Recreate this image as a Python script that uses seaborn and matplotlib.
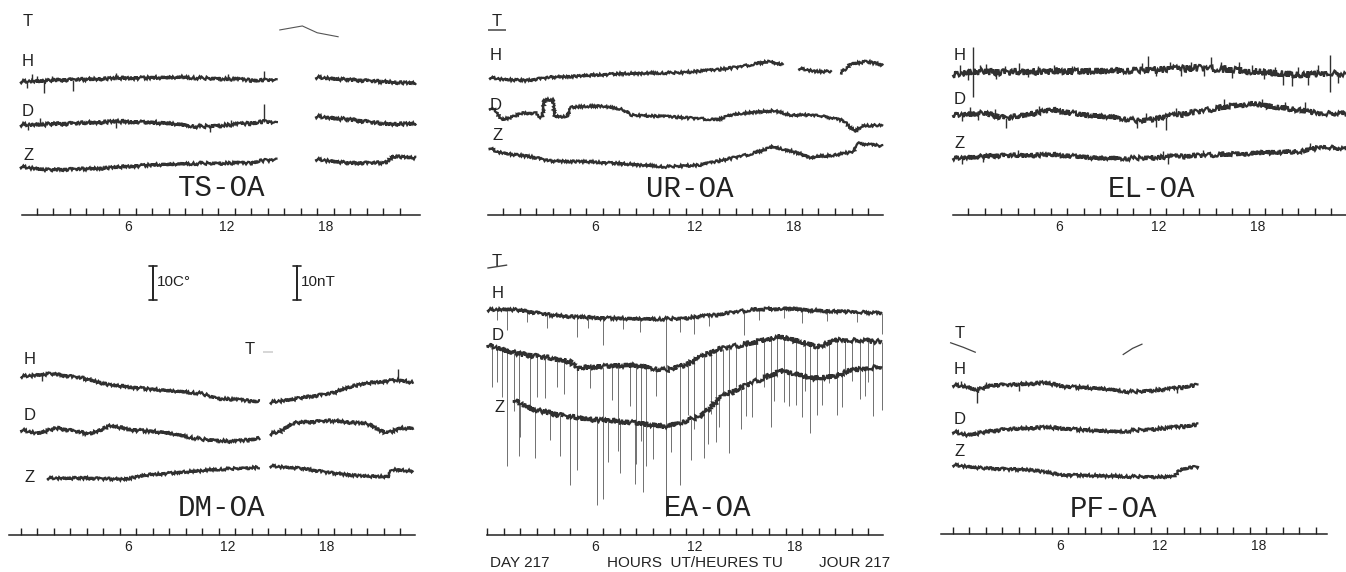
import numpy as np
import pandas as pd
import matplotlib
matplotlib.use("Agg")
import matplotlib.pyplot as plt
import matplotlib.transforms as mtransforms
from matplotlib.lines import Line2D
import seaborn as sns

NaN = np.nan

# ------------------------------------------------------------------ data
# hours UT (day 217) and deflections (nT for H/D/Z, degC for T) relative to trace start
# NaN marks a gap in the record
TS_T_HOURS = [15.7, 17.1, 18.0, 19.3]
TS_T_VALUES = [0.0, 1.2, -0.8, -2.0]
TS_H_HOURS = [0.0, 2.8, 5.8, 9.9, 12.9, 14.5, 15.0, 15.6, NaN, 17.9, 20.0, 24.0]
TS_H_VALUES = [-0.5, 0.0, 0.5, 0.8, 0.2, -0.2, 0.0, -0.2, NaN, 0.8, 0.0, -1.0]
TS_D_HOURS = [0.0, 2.8, 5.8, 8.9, 10.9, 12.9, 14.5, 14.9, 15.6, NaN, 17.9, 20.0, 22.0, 24.0]
TS_D_VALUES = [0.0, 0.3, 1.0, 0.5, -0.5, 0.0, 0.7, 1.0, 0.3, NaN, 2.5, 1.5, 0.3, 0.3]
TS_Z_HOURS = [0.0, 1.8, 4.8, 7.9, 10.9, 13.9, 14.7, 15.6, NaN, 17.9, 20.0, 22.2, 22.6, 24.0]
TS_Z_VALUES = [0.0, -1.0, -0.5, 0.5, 1.0, 1.0, 1.8, 2.0, NaN, 2.2, 1.0, 1.2, 3.1, 2.5]
TS_H_SPIKE_HOURS = [0.4, 0.7, 1.0, 1.42, 1.9, 3.2, 5.8, 12.6, 14.8]
TS_H_SPIKE_SIZE = [-1.8, 2.0, 1.6, -3.6, 1.4, -3.4, 1.6, 1.4, 2.7]
TS_D_SPIKE_HOURS = [0.5, 1.2, 5.8, 11.5, 12.8, 14.8]
TS_D_SPIKE_SIZE = [-1.6, 1.8, -1.8, -1.6, 1.5, 5.2]

UR_T_HOURS = [0.08, 1.17]
UR_T_VALUES = [0.0, 0.0]
UR_H_HOURS = [0.16, 1.0, 2.4, 3.8, 5.8, 7.8, 9.8, 11.8, 13.9, 15.3, 16.9, 17.9, NaN, 18.8, 19.9, 20.8, NaN, 21.3, 21.7, 21.9, 22.9, 23.9]
UR_H_VALUES = [0.0, -0.5, -0.9, 0.1, 0.5, 1.1, 1.3, 1.5, 2.3, 3.2, 4.7, 3.9, NaN, 2.7, 1.8, 1.8, NaN, 1.3, 2.7, 4.0, 4.7, 3.7]
UR_D_HOURS = [0.16, 0.5, 0.9, 1.6, 2.1, 3.0, 3.1, 3.37, 3.45, 4.0, 4.1, 4.8, 5.1, 6.8, 8.2, 8.7, 11.0, 13.9, 14.9, 17.3, 18.3, 19.9, 21.5, 22.2, 22.6, 23.9]
UR_D_VALUES = [0.0, -0.5, -3.4, -2.5, -1.5, -1.5, -2.6, -2.6, 2.5, 2.5, -2.5, -2.5, 0.3, 0.7, -0.3, -2.0, -2.5, -3.4, -1.7, -0.7, -2.0, -2.0, -3.6, -6.9, -5.2, -4.9]
UR_Z_HOURS = [0.16, 0.6, 1.4, 2.8, 3.8, 5.8, 7.8, 10.8, 12.9, 14.3, 15.9, 17.3, 18.5, 19.5, 20.9, 22.1, 22.3, 23.9]
UR_Z_VALUES = [0.0, -1.2, -1.9, -2.8, -3.9, -4.1, -4.6, -5.6, -5.1, -3.6, -1.9, 0.3, -1.2, -2.8, -2.2, -1.2, 1.3, 0.5]

EL_H_HOURS = [0.05, 1.3, 2.9, 4.9, 8.0, 10.0, 12.0, 15.0, 17.1, 19.1, 21.1, 22.7, 23.0, 23.9]
EL_H_VALUES = [-0.3, 0.7, 0.4, 0.7, 0.7, 1.0, 1.2, 1.7, 1.2, 0.4, -0.3, 0.2, 0.2, -0.3]
EL_D_HOURS = [0.05, 1.9, 3.3, 6.0, 8.0, 10.0, 11.4, 13.0, 15.0, 16.7, 18.1, 19.7, 21.1, 22.3, 23.9]
EL_D_VALUES = [0.0, 0.5, -1.0, 1.5, 0.0, -0.7, -1.7, -0.5, 1.0, 2.5, 3.4, 2.3, 1.5, 0.5, 0.3]
EL_Z_HOURS = [0.05, 2.9, 6.0, 9.0, 11.0, 13.0, 16.1, 19.1, 21.1, 22.5, 23.9]
EL_Z_VALUES = [0.0, 0.7, 1.0, 0.0, 0.0, 0.3, 1.0, 1.7, 2.0, 3.4, 2.6]
EL_H_SPIKE_HOURS = [0.5, 1.0, 1.3, 1.3, 1.7, 2.1, 2.7, 3.2, 4.1, 4.6, 5.2, 6.2, 7.3, 11.5, 11.9, 12.4, 13.2, 13.9,
                    14.5, 15.3, 15.7, 16.3, 17.0, 17.4, 18.2, 18.9, 19.6, 20.1, 20.6, 21.0, 21.6, 22.2, 22.9, 22.9, 23.4]
EL_H_SPIKE_SIZE = [2.5, -2.2, 7.3, -7.4, 2.0, 2.5, -2.0, 1.8, 2.6, -1.6, 1.6, 2.0, 1.5, 2.0, 4.1, -2.0, 2.2, -2.2,
                   2.0, -2.2, 3.4, 2.0, -2.4, 2.5, 2.0, -2.0, 1.8, -3.2, -3.5, 2.2, -3.0, 2.6, 5.4, -5.4, -2.6]
EL_D_SPIKE_HOURS = [0.6, 1.1, 1.6, 2.6, 3.3, 5.3, 11.2, 11.8, 12.4, 13.0, 13.6, 16.5, 18.8, 20.2, 21.4]
EL_D_SPIKE_SIZE = [-2.0, 2.2, -1.8, 2.0, -2.9, 1.8, -2.4, 2.0, -2.6, -3.9, 2.2, 2.5, 1.8, 1.8, 2.6]
EL_Z_SPIKE_HOURS = [0.6, 1.9, 4.0, 12.8, 13.1, 15.2, 21.7]
EL_Z_SPIKE_SIZE = [-1.8, -1.5, 1.6, 2.0, -2.0, 1.5, 1.8]

DM_T_HOURS = [14.7, 15.3]
DM_T_VALUES = [0.0, 0.0]
DM_H_HOURS = [0.0, 1.8, 3.8, 5.4, 7.8, 10.9, 11.9, 14.5, NaN, 15.1, 16.9, 18.9, 20.0, 21.0, 22.8, 23.8]
DM_H_VALUES = [0.0, 0.8, -0.5, -2.5, -3.7, -4.9, -6.4, -7.4, NaN, -7.6, -6.4, -4.9, -2.9, -2.0, -1.0, -1.8]
DM_D_HOURS = [0.0, 1.0, 2.2, 4.2, 5.4, 6.8, 8.8, 10.9, 12.9, 14.5, NaN, 15.1, 15.7, 16.5, 18.9, 21.0, 22.2, 23.0, 23.8]
DM_D_VALUES = [0.0, -1.0, 0.5, -1.2, 1.2, 0.0, -0.8, -2.7, -3.5, -2.5, NaN, -1.2, -0.5, 2.0, 2.7, 1.8, -1.0, 0.5, 0.5]
DM_Z_HOURS = [1.6, 3.8, 6.2, 7.8, 9.9, 11.9, 14.5, NaN, 15.1, 16.9, 18.9, 21.0, 22.3, 22.5, 23.8]
DM_Z_VALUES = [0.0, 0.0, -0.3, 1.0, 1.8, 2.6, 3.2, NaN, 3.6, 2.9, 1.5, 0.5, 0.5, 2.6, 2.0]
DM_H_SPIKE_HOURS = [1.3, 22.85]
DM_H_SPIKE_SIZE = [-1.8, 3.2]

EA_T_HOURS = [0.0, 1.2]
EA_T_VALUES = [0.0, 0.9]
EA_H_HOURS = [0.0, 1.4, 3.8, 5.8, 7.8, 9.8, 11.8, 13.8, 15.9, 17.9, 19.9, 21.9, 23.8]
EA_H_VALUES = [0.0, 0.2, -1.5, -2.2, -2.5, -2.7, -2.5, -1.5, 0.0, 0.5, -0.2, -0.5, -1.0]
EA_D_HOURS = [0.0, 1.8, 3.8, 5.0, 5.4, 6.8, 8.8, 10.8, 12.2, 13.8, 15.9, 17.5, 18.9, 19.9, 21.1, 23.8]
EA_D_VALUES = [0.0, -2.6, -3.9, -4.9, -6.9, -6.4, -5.9, -7.4, -5.4, -1.5, 0.5, 2.5, 1.0, -0.5, 1.5, 1.0]
EA_Z_HOURS = [1.6, 2.8, 4.8, 6.8, 8.8, 10.8, 12.8, 14.2, 15.9, 17.9, 19.5, 20.9, 21.9, 23.8]
EA_Z_VALUES = [0.0, -2.9, -4.9, -5.9, -6.7, -7.8, -4.9, 1.0, 4.9, 8.8, 6.4, 6.9, 8.8, 9.8]
EA_H_SPIKE_HOURS = [0.6, 1.2, 2.4, 3.6, 5.4, 6.1, 7.0, 8.2, 9.2, 10.8, 11.6, 12.5, 13.4, 15.5, 16.4, 17.9, 19.0, 20.5, 22.3, 23.8]
EA_H_SPIKE_SIZE = [-3, -6, -3, -4, -6, -3, -8, -3, -4, -58, -4, -5, -3, -7, -3, -3, -4, -3, -3, -6]
EA_D_SPIKE_HOURS = [0.3, 0.6, 0.9, 1.2, 1.6, 1.9, 2.6, 3.0, 3.5, 4.2, 4.6, 5.4, 6.2, 7.0, 7.5, 7.9, 8.6, 9.0, 9.3, 9.6,
                    10.2, 10.8, 11.6, 12.1, 12.5, 13.1, 13.5, 13.8, 14.2, 14.6, 15.0, 15.6, 16.2, 16.7, 17.1, 17.5, 17.9, 18.6, 19.2, 19.5,
                    19.9, 20.6, 21.1, 21.6, 22.0, 22.5, 23.0, 23.3, 23.8]
EA_D_SPIKE_SIZE = [-12, -10, -14, -34, -17, -30, -15, -12, -12, -8, -10, -30, -6, -39, -10, -25, -12, -29, -22, -29,
                   -8, -43, -35, -15, -20, -30, -18, -27, -14, -31, -12, -21, -12, -14, -26, -12, -19, -19, -14, -26,
                   -20, -12, -22, -10, -12, -17, -12, -22, -20]
EA_Z_SPIKE_HOURS = [2.0, 2.9, 3.8, 4.4, 5.0, 6.6, 7.3, 8.0, 8.9, 9.4, 10.0, 11.1, 12.3, 13.3, 14.0, 15.3, 16.0, 17.3, 18.2, 19.0, 20.2, 21.4, 22.8]
EA_Z_SPIKE_SIZE = [-10, -14, -8, -12, -20, -25, -12, -15, -18, -20, -10, -8, -12, -10, -8, -12, -10, -8, -10, -12, -8, -10, -8]

PF_T_HOURS = [-0.16, 0.65, 1.4, NaN, 10.3, 10.9, 11.5]
PF_T_VALUES = [0.0, -1.4, -2.9, NaN, -3.6, -1.7, -0.4]
PF_H_HOURS = [0.0, 0.85, 1.45, 2.5, 3.5, 5.5, 6.9, 8.9, 10.9, 13.0, 14.9]
PF_H_VALUES = [0.0, -0.5, -1.5, 0.0, 0.0, 0.7, -0.5, -1.0, -2.0, -1.3, 0.0]
PF_D_HOURS = [0.0, 0.85, 2.9, 5.5, 7.9, 9.9, 11.4, 13.0, 14.9]
PF_D_VALUES = [0.0, -1.0, 0.5, 1.3, 0.5, 0.0, 0.5, 1.0, 2.0]
PF_Z_HOURS = [0.0, 1.9, 4.9, 6.5, 8.9, 10.9, 13.4, 13.8, 14.9]
PF_Z_VALUES = [0.0, -1.0, -1.5, -2.9, -3.2, -3.4, -3.6, -1.3, -0.5]
PF_H_SPIKE_HOURS = [0.5, 1.45, 2.0, 4.0, 13.6]
PF_H_SPIKE_SIZE = [1.5, -3.9, 1.6, -1.8, -1.5]

LABELLED_HOURS = [6, 12, 18]
STATIONS = ["TS-OA", "UR-OA", "EL-OA", "DM-OA", "EA-OA", "PF-OA"]

# ------------------------------------------------------------------ layout / style
W, H = 1346, 572
PX_PER_NT = 3.4
INK = "#222222"
TRACE_INK = "#303030"

sns.set_style("white")
plt.rcParams["font.family"] = ["Liberation Sans", "DejaVu Sans"]

fig = plt.figure(figsize=(W / 100, H / 100), dpi=100)
fig.patch.set_facecolor("white")


def fx(x):
    return x / W


def fy(y):
    return 1 - y / H


LAYOUT = {
    "TS-OA": dict(left=22, right=420, top=0, axis=215, xlim=(0.11, 24.23), ticks=range(1, 24), lab=(222, 188)),
    "UR-OA": dict(left=488, right=883, top=0, axis=215, xlim=(0.08, 23.89), ticks=range(1, 24), lab=(690, 189)),
    "EL-OA": dict(left=953, right=1346, top=0, axis=215, xlim=(0.07, 23.9), ticks=range(1, 24), lab=(1152, 189)),
    "DM-OA": dict(left=9, right=415, top=240, axis=535, xlim=(-0.71, 23.9), ticks=range(0, 24), lab=(222, 508)),
    "EA-OA": dict(left=487, right=883, top=240, axis=535, xlim=(-0.02, 23.88), ticks=range(0, 24), lab=(708, 508)),
    "PF-OA": dict(left=941, right=1327, top=240, axis=534, xlim=(-0.71, 22.68), ticks=range(0, 23), lab=(1113, 509)),
}

TRACES = {
    "TS-OA": [(TS_T_HOURS, TS_T_VALUES, 54.4, "T"), (TS_H_HOURS, TS_H_VALUES, 39.7, "H"),
              (TS_D_HOURS, TS_D_VALUES, 26.5, "D"), (TS_Z_HOURS, TS_Z_VALUES, 14.2, "Z")],
    "UR-OA": [(UR_T_HOURS, UR_T_VALUES, 54.4, "T"), (UR_H_HOURS, UR_H_VALUES, 40.4, "H"),
              (UR_D_HOURS, UR_D_VALUES, 31.4, "D"), (UR_Z_HOURS, UR_Z_VALUES, 19.8, "Z")],
    "EL-OA": [(EL_H_HOURS, EL_H_VALUES, 41.5, "H"), (EL_D_HOURS, EL_D_VALUES, 29.4, "D"),
              (EL_Z_HOURS, EL_Z_VALUES, 16.7, "Z")],
    "DM-OA": [(DM_T_HOURS, DM_T_VALUES, 53.8, "T"), (DM_H_HOURS, DM_H_VALUES, 46.6, "H"),
              (DM_D_HOURS, DM_D_VALUES, 30.9, "D"), (DM_Z_HOURS, DM_Z_VALUES, 16.7, "Z")],
    "EA-OA": [(EA_T_HOURS, EA_T_VALUES, 78.5, "T"), (EA_H_HOURS, EA_H_VALUES, 66.2, "H"),
              (EA_D_HOURS, EA_D_VALUES, 55.9, "D"), (EA_Z_HOURS, EA_Z_VALUES, 39.7, "Z")],
    "PF-OA": [(PF_T_HOURS, PF_T_VALUES, 56.3, "T"), (PF_H_HOURS, PF_H_VALUES, 43.8, "H"),
              (PF_D_HOURS, PF_D_VALUES, 30.1, "D"), (PF_Z_HOURS, PF_Z_VALUES, 20.3, "Z")],
}

SPIKES = {
    "TS-OA": [(TS_H_SPIKE_HOURS, TS_H_SPIKE_SIZE, "H"), (TS_D_SPIKE_HOURS, TS_D_SPIKE_SIZE, "D")],
    "UR-OA": [],
    "EL-OA": [(EL_H_SPIKE_HOURS, EL_H_SPIKE_SIZE, "H"), (EL_D_SPIKE_HOURS, EL_D_SPIKE_SIZE, "D"),
              (EL_Z_SPIKE_HOURS, EL_Z_SPIKE_SIZE, "Z")],
    "DM-OA": [(DM_H_SPIKE_HOURS, DM_H_SPIKE_SIZE, "H")],
    "EA-OA": [(EA_D_SPIKE_HOURS, EA_D_SPIKE_SIZE, "D"), (EA_Z_SPIKE_HOURS, EA_Z_SPIKE_SIZE, "Z"),
              (EA_H_SPIKE_HOURS, EA_H_SPIKE_SIZE, "H")],
    "PF-OA": [(PF_H_SPIKE_HOURS, PF_H_SPIKE_SIZE, "H")],
}

# noise rendering (sketch amplitude in px) per station / component
NOISE = {
    "TS-OA": dict(H=1.6, D=1.8, Z=1.5), "UR-OA": dict(H=1.2, D=1.1, Z=1.2),
    "EL-OA": dict(H=3.2, D=2.6, Z=2.2), "DM-OA": dict(H=1.5, D=1.6, Z=1.3),
    "EA-OA": dict(H=1.6, D=2.4, Z=2.4), "PF-OA": dict(H=1.7, D=1.7, Z=1.4),
}
T_STYLE = {
    "TS-OA": dict(color="#555555", lw=0.8), "UR-OA": dict(color="#444444", lw=1.1),
    "DM-OA": dict(color="#cfcfcf", lw=1.2), "EA-OA": dict(color="#444444", lw=1.0),
    "PF-OA": dict(color="#444444", lw=0.9),
}

LETTER_POS = {
    "TS-OA": dict(T=(28, 22), H=(28, 62), D=(28, 112), Z=(29, 155)),
    "UR-OA": dict(T=(497, 22), H=(496, 55), D=(496, 106), Z=(498, 135)),
    "EL-OA": dict(H=(960, 55), D=(960, 99), Z=(960, 143)),
    "DM-OA": dict(T=(250, 349), H=(30, 360), D=(30, 415), Z=(30, 478)),
    "EA-OA": dict(T=(497, 262), H=(498, 294), D=(498, 336), Z=(500, 407)),
    "PF-OA": dict(T=(960, 333), H=(960, 370), D=(960, 420), Z=(960, 452)),
}


def draw_trace(ax, hours, values, offset, color, lw, sketch):
    h = np.asarray(hours, float)
    v = np.asarray(values, float)
    seg = np.cumsum(np.isnan(h))
    df = pd.DataFrame({"hour": h, "value": v + offset, "seg": seg}).dropna()
    n0 = len(ax.lines)
    sns.lineplot(data=df, x="hour", y="value", units="seg", estimator=None, sort=False,
                 ax=ax, color=color, lw=lw, legend=False)
    for ln in ax.lines[n0:]:
        ln.set_clip_on(False)
        ln.set_solid_capstyle("butt")
        ln.set_solid_joinstyle("miter")
        if sketch:
            ln.set_sketch_params(sketch, 1.6, 3.0)


def draw_spikes(ax, spike_hours, spike_size, hours, values, offset, color, lw):
    h = np.asarray(hours, float)
    v = np.asarray(values, float)
    ok = ~np.isnan(h)
    base = np.interp(spike_hours, h[ok], v[ok]) + offset
    tip = base + np.asarray(spike_size, float)
    ax.vlines(spike_hours, np.minimum(base, tip), np.maximum(base, tip), colors=color,
              lw=lw, clip_on=False, zorder=1)


for station in STATIONS:
    L = LAYOUT[station]
    rect = [fx(L["left"]), fy(L["axis"]), (L["right"] - L["left"]) / W, (L["axis"] - L["top"]) / H]
    ax = fig.add_axes(rect)
    ax.set_facecolor("none")
    ax.set_xlim(*L["xlim"])
    ax.set_ylim(0, (L["axis"] - L["top"]) / PX_PER_NT)
    for s in ["top", "left", "right"]:
        ax.spines[s].set_visible(False)
    ax.spines["bottom"].set_color(INK)
    ax.spines["bottom"].set_linewidth(1.1)
    ax.set_xticks(list(L["ticks"]))
    ax.set_yticks([])
    ax.tick_params(axis="x", bottom=True, direction="in", length=5, width=1.0, color=INK,
                   labelbottom=False)
    lab_trans = mtransforms.offset_copy(ax.get_xaxis_transform(), fig=fig, x=0, y=-12, units="dots")
    for hr in LABELLED_HOURS:
        ax.text(hr + 0.52, 0, str(hr), transform=lab_trans, ha="center", va="center",
                fontsize=10, color=INK)

    trace_map = {comp: (hrs, vals, off) for hrs, vals, off, comp in TRACES[station]}
    for s_hours, s_size, comp in SPIKES[station]:
        hrs, vals, off = trace_map[comp]
        if station == "EA-OA":
            draw_spikes(ax, s_hours, s_size, hrs, vals, off, "#707070", 0.7)
        else:
            draw_spikes(ax, s_hours, s_size, hrs, vals, off, TRACE_INK, 1.0)

    for hours, values, offset, comp in TRACES[station]:
        if comp == "T":
            st = T_STYLE[station]
            draw_trace(ax, hours, values, offset, st["color"], st["lw"], None)
        else:
            draw_trace(ax, hours, values, offset, TRACE_INK, 1.6, NOISE[station][comp])

    for comp, (x, y) in LETTER_POS[station].items():
        fig.text(fx(x), fy(y), comp, ha="center", va="center", fontsize=12, color=INK)
    lx, ly = L["lab"]
    fig.text(fx(lx), fy(ly), station, ha="center", va="center", fontsize=21, color=INK,
             family=["Liberation Mono", "DejaVu Sans Mono"])

# scale bars
for bx, txt in [(153, "10C°"), (297, "10nT")]:
    y0, y1 = 266, 300
    fig.add_artist(Line2D([fx(bx), fx(bx)], [fy(y0), fy(y1)], color=INK, lw=1.4))
    for yy in (y0, y1):
        fig.add_artist(Line2D([fx(bx - 4), fx(bx + 4)], [fy(yy), fy(yy)], color=INK, lw=1.2))
    fig.text(fx(bx + 4), fy(282), txt, ha="left", va="center", fontsize=11, color=INK)

# bottom caption of the middle column
fig.text(fx(490), fy(563), "DAY 217", ha="left", va="center", fontsize=11, color=INK)
fig.text(fx(695), fy(563), "HOURS  UT/HEURES TU", ha="center", va="center", fontsize=11, color=INK)
fig.text(fx(890), fy(563), "JOUR 217", ha="right", va="center", fontsize=11, color=INK)

fig.savefig("out.png", dpi=100, facecolor="white")
